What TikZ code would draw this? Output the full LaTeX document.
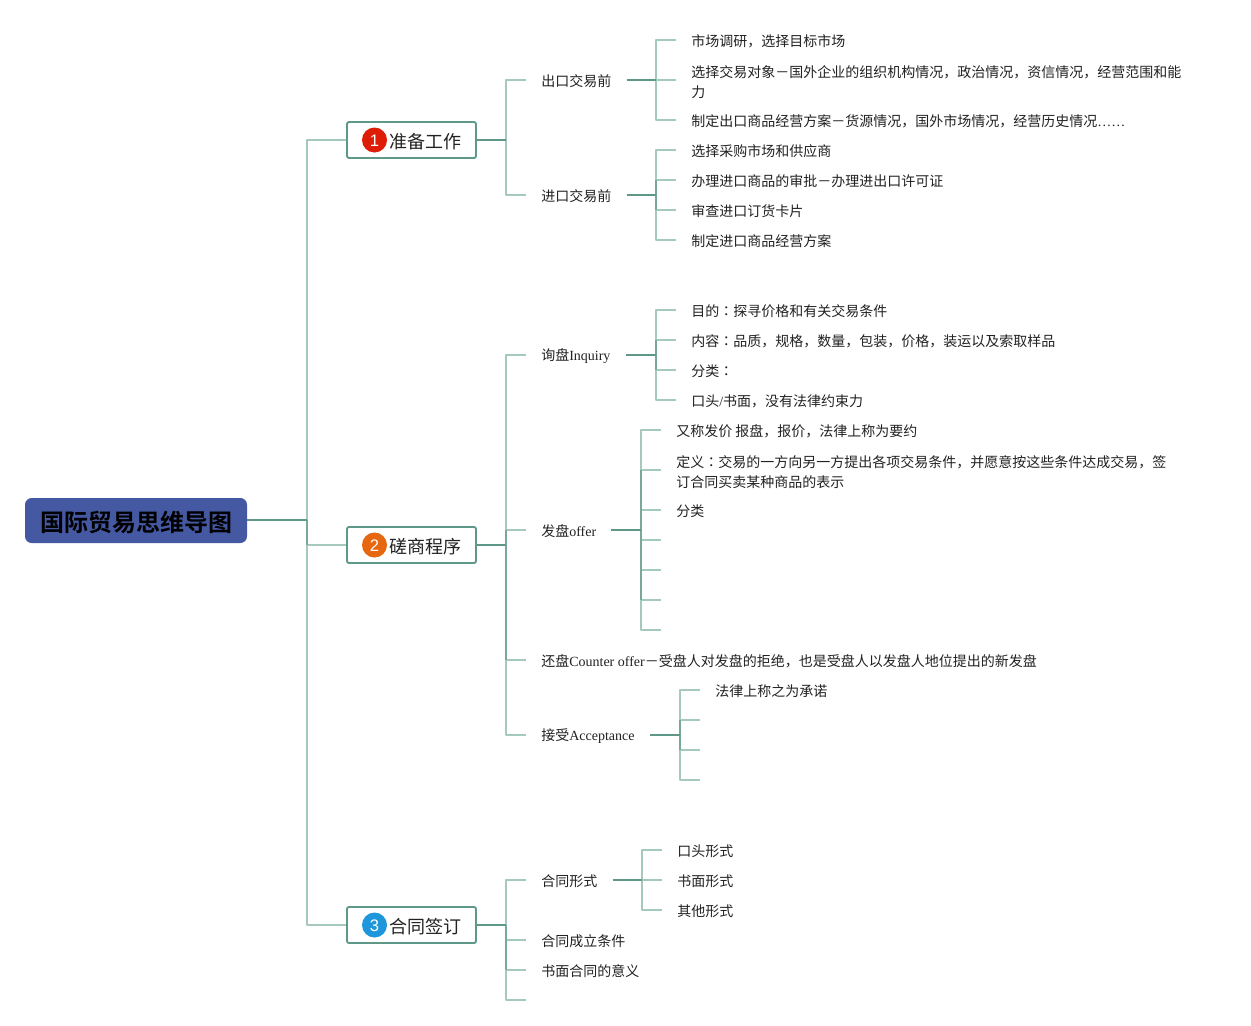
\documentclass[tikz,border=0pt]{standalone}
\usepackage{fontspec}
\setmainfont{Noto Sans CJK SC}[BoldFont={* Bold}]
\newfontfamily\lat{Liberation Serif}
\newfontfamily\tcf{Noto Sans CJK TC}
\newfontfamily\numf{Liberation Sans}
\newcommand{\cc}{{\tcf ：}}
\newcommand{\lowerfirst}{\rule{0pt}{11.8pt}}
\newcommand{\digitc}[1]{\raisebox{-4.5pt}[0pt][0pt]{#1}}
\definecolor{dk}{HTML}{5F9888}
\definecolor{dkbus}{HTML}{78A89A}
\definecolor{lt}{HTML}{A6C9BF}
\definecolor{ink}{HTML}{222222}
\definecolor{rootblue}{HTML}{4559A3}
\definecolor{badgeA}{HTML}{DD1D05}
\definecolor{badgeB}{HTML}{E6670F}
\definecolor{badgeC}{HTML}{1E96DC}
\tikzset{
  x=0.75pt,y=-0.75pt,
  lite/.style={draw=lt,line width=1.1pt,line join=round},
  dark/.style={draw=dk,line width=1.4pt,line join=round},
  darkbus/.style={draw=dkbus,line width=1.2pt,line join=round},
  leaf/.style={anchor=west,inner xsep=11.25pt,inner ysep=0pt,align=left,font=\fontsize{10.5pt}{15pt}\selectfont,text=ink,execute at begin node={\rule{0pt}{10.75pt}}},
  rootbox/.style={draw=none,fill=rootblue,rounded corners=5pt,minimum width=166.5pt,minimum height=33.75pt,inner sep=0pt,font=\fontsize{18pt}{20pt}\selectfont\bfseries,text=black,execute at begin node={\rule{0pt}{18.8pt}}},
  branch/.style={draw=dk,line width=1.4pt,fill=white,rounded corners=1.5pt,minimum width=96.75pt,minimum height=27pt,inner sep=0pt,align=left,font=\fontsize{13.5pt}{16pt}\selectfont,text=ink,execute at begin node={\rule{0pt}{14.1pt}}},
  badge/.style={circle,minimum size=18.75pt,inner sep=0pt,text=white,font=\numf\fontsize{12.5pt}{15pt}\selectfont}
}
\begin{document}
\begin{tikzpicture}
\useasboundingbox[fill=white] (0,0) rectangle (1251,1025);
% buses
\coordinate (bus0) at (307,520);
\coordinate (busA) at (506,140);
\coordinate (busB) at (506,545);
\coordinate (busC) at (506,925);
\coordinate (busA1) at (656,80);
\coordinate (busA2) at (656,195);
\coordinate (busB1) at (656,355);
\coordinate (busB2) at (641,530);
\coordinate (busB4) at (680,735);
\coordinate (busC1) at (642,880);
% root and branches
\node[rootbox] (root) at (136,520.5) {国际贸易思维导图};
\node[branch] (A) at (411.5,140) {\hspace*{20.25pt}准备工作};
\node[branch] (B) at (411.5,545) {\hspace*{20.25pt}磋商程序};
\node[branch] (C) at (411.5,925) {\hspace*{20.25pt}合同签订};
\node[badge,fill=badgeA] (nA) at (374.5,140) {\digitc{1}};
\node[badge,fill=badgeB] (nB) at (374.5,545) {\digitc{2}};
\node[badge,fill=badgeC] (nC) at (374.5,925) {\digitc{3}};
% level 2
\node[leaf] (a1) at (526,80) {出口交易前};
\node[leaf] (a2) at (526,195) {进口交易前};
\node[leaf] (b1) at (526,355) {询盘{\lat Inquiry}};
\node[leaf] (b2) at (526,530) {发盘{\lat offer}};
\node[leaf] (b3) at (526,660) {还盘{\lat Counter offer}－受盘人对发盘的拒绝，也是受盘人以发盘人地位提出的新发盘};
\node[leaf] (b4) at (526,735) {接受{\lat Acceptance}};
\node[leaf] (c1) at (526,880) {合同形式};
\node[leaf] (c2) at (526,940) {合同成立条件};
\node[leaf] (c3) at (526,970) {书面合同的意义};
\coordinate (c4) at (526,1000);
% level 3
\node[leaf] (a11) at (676,40) {市场调研，选择目标市场};
\node[leaf] (a12) at (676,80) {\lowerfirst 选择交易对象－国外企业的组织机构情况，政治情况，资信情况，经营范围和能\\力};
\node[leaf] (a13) at (676,120) {制定出口商品经营方案－货源情况，国外市场情况，经营历史情况{\lat ……}};
\node[leaf] (a21) at (676,150) {选择采购市场和供应商};
\node[leaf] (a22) at (676,180) {办理进口商品的审批－办理进出口许可证};
\node[leaf] (a23) at (676,210) {审查进口订货卡片};
\node[leaf] (a24) at (676,240) {制定进口商品经营方案};
\node[leaf] (b11) at (676,310) {目的\cc 探寻价格和有关交易条件};
\node[leaf] (b12) at (676,340) {内容\cc 品质，规格，数量，包装，价格，装运以及索取样品};
\node[leaf] (b13) at (676,370) {分类\cc};
\node[leaf] (b14) at (676,400) {口头{\lat /}书面，没有法律约束力};
\node[leaf] (b21) at (661,430) {又称发价 报盘，报价，法律上称为要约};
\node[leaf] (b22) at (661,470) {\lowerfirst 定义\cc 交易的一方向另一方提出各项交易条件，并愿意按这些条件达成交易，签\\订合同买卖某种商品的表示};
\node[leaf] (b23) at (661,510) {分类};
\coordinate (b24) at (661,540);
\coordinate (b25) at (661,570);
\coordinate (b26) at (661,600);
\coordinate (b27) at (661,630);
\node[leaf] (b41) at (700,690) {法律上称之为承诺};
\coordinate (b42) at (700,720);
\coordinate (b43) at (700,750);
\coordinate (b44) at (700,780);
\node[leaf] (c11) at (662,850) {口头形式};
\node[leaf] (c12) at (662,880) {书面形式};
\node[leaf] (c13) at (662,910) {其他形式};
% light child connectors
\foreach \k/\b in {A.west/bus0,B.west/bus0,C.west/bus0,
  a1.west/busA,a2.west/busA,
  b1.west/busB,b2.west/busB,b3.west/busB,b4.west/busB,
  c1.west/busC,c2.west/busC,c3.west/busC,c4/busC,
  a11.west/busA1,a12.west/busA1,a13.west/busA1,
  a21.west/busA2,a22.west/busA2,a23.west/busA2,a24.west/busA2,
  b11.west/busB1,b12.west/busB1,b13.west/busB1,b14.west/busB1,
  b21.west/busB2,b22.west/busB2,b23.west/busB2,b24/busB2,b25/busB2,b26/busB2,b27/busB2,
  b41.west/busB4,b42/busB4,b43/busB4,b44/busB4,
  c11.west/busC1,c12.west/busC1,c13.west/busC1}
  \draw[lite] (\k) -| (\b);
% dark bus sections
\draw[darkbus] (bus0) -- (B.west -| bus0);
\draw[darkbus] (b2.west -| busB) -- (b3.west -| busB);
\draw[darkbus] (busC) -- (c3.west -| busC);
\draw[darkbus] (a22.west -| busA2) -- (a23.west -| busA2);
\draw[darkbus] (b12.west -| busB1) -- (b13.west -| busB1);
\draw[darkbus] (b22.west -| busB2) -- (b26 -| busB2);
\draw[darkbus] (b42 -| busB4) -- (b43 -| busB4);
% dark parent stubs
\draw[dark] (root.east |- bus0) -- (bus0);
\foreach \p/\b in {A.east/busA,B.east/busB,C.east/busC,
  a1.east/busA1,a2.east/busA2,b1.east/busB1,b2.east/busB2,b4.east/busB4,c1.east/busC1}
  \draw[dark] (\p) -- (\b);
\end{tikzpicture}
\end{document}
